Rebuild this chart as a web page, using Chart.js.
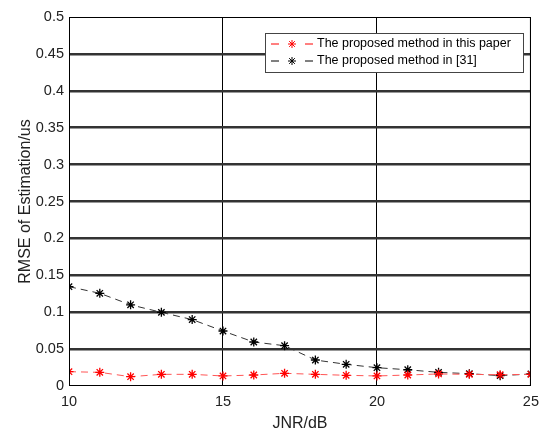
<!DOCTYPE html>
<html>
<head>
<meta charset="utf-8">
<script src="https://cdn.jsdelivr.net/npm/chart.js@4/dist/chart.umd.min.js"></script>
<style>
  html, body { margin: 0; padding: 0; background: #fff; }
  #wrap { width: 546px; height: 433px; }
</style>
</head>
<body>
<div id="wrap"><canvas id="rmse-chart" width="546" height="433"></canvas></div>
<script>
const jnr = [10, 11, 12, 13, 14, 15, 16, 17, 18, 19, 20, 21, 22, 23, 24, 25];
const proposedThis = [0.0194, 0.0185, 0.0126, 0.0158, 0.0158, 0.0136, 0.0149, 0.0172, 0.0158, 0.0145, 0.0136, 0.0149, 0.0163, 0.0158, 0.0153, 0.0158];
const proposedRef31 = [0.1346, 0.1256, 0.1100, 0.0998, 0.0900, 0.0745, 0.0596, 0.0546, 0.0352, 0.0294, 0.0248, 0.0220, 0.0185, 0.0167, 0.0140, 0.0163];
const seriesNames = ['The proposed method in this paper', 'The proposed method in [31]'];
const xTicks = [10, 15, 20, 25];

const font = 'Liberation Sans, Arial, sans-serif';

function toPoints(values) {
    return values.map((v, i) => ({ x: jnr[i], y: v }));
}

// box around the plot plus the boxed legend in the upper right
const framePlugin = {
    id: 'frame',
    afterDraw(chart) {
        const { ctx, chartArea: a } = chart;
        ctx.save();
        ctx.strokeStyle = '#000';
        ctx.lineWidth = 1;
        ctx.strokeRect(a.left + 0.5, a.top + 0.5, a.right - a.left - 1, a.bottom - a.top - 1);

        // legend
        const lx = 265, ly = 33, lw = 258, lh = 39;
        ctx.fillStyle = '#fff';
        ctx.fillRect(lx, ly, lw, lh);
        ctx.strokeStyle = '#444';
        ctx.strokeRect(lx + 0.5, ly + 0.5, lw, lh);
        const colors = ['#ff0000', '#000000'];
        chart.data.datasets.forEach((ds, i) => {
            const y = ly + 11 + i * 17;
            ctx.strokeStyle = colors[i];
            ctx.lineWidth = 1;
            ctx.beginPath();
            ctx.moveTo(lx + 6, y); ctx.lineTo(lx + 14, y);
            ctx.moveTo(lx + 40, y); ctx.lineTo(lx + 48, y);
            ctx.stroke();
            Chart.helpers.drawPoint(ctx, { pointStyle: 'star', radius: 4, rotation: 0, borderWidth: 1.2 }, lx + 27, y);
            ctx.fillStyle = '#000';
            ctx.font = '12.5px ' + font;
            ctx.textBaseline = 'middle';
            ctx.fillText(ds.label, lx + 52, y);
        });
        ctx.restore();
    }
};

new Chart(document.getElementById('rmse-chart'), {
    type: 'line',
    data: {
        datasets: [
            {
                label: seriesNames[0],
                data: toPoints(proposedThis),
                borderColor: '#ff5555',
                borderWidth: 1,
                borderDash: [7, 5],
                pointStyle: 'star',
                pointRadius: 4.5,
                pointBorderColor: '#ff0000',
                pointBorderWidth: 1.3,
                fill: false
            },
            {
                label: seriesNames[1],
                data: toPoints(proposedRef31),
                borderColor: '#333',
                borderWidth: 1,
                borderDash: [7, 5],
                pointStyle: 'star',
                pointRadius: 4.5,
                pointBorderColor: '#000',
                pointBorderWidth: 1.3,
                fill: false
            }
        ]
    },
    options: {
        responsive: false,
        animation: false,
        events: [],
        layout: { padding: { top: 17, right: 9, left: 12, bottom: 0 } },
        plugins: {
            legend: { display: false },
            tooltip: { enabled: false }
        },
        scales: {
            x: {
                type: 'linear',
                min: 10,
                max: 25,
                afterBuildTicks: scale => { scale.ticks = xTicks.map(v => ({ value: v })); },
                afterFit: scale => { scale.height = 47; },
                grid: { color: '#000', lineWidth: 1, drawTicks: false },
                border: { display: false },
                ticks: { color: '#222', font: { family: font, size: 14.5 }, padding: 7, maxRotation: 0 },
                title: { display: true, text: 'JNR/dB', color: '#222', font: { family: font, size: 16 }, padding: { top: 2, bottom: 0 } }
            },
            y: {
                min: 0,
                max: 0.5,
                afterFit: scale => { scale.width = 57; },
                grid: {
                    color: '#333',
                    lineWidth: c => (c.tick && (c.tick.value === 0 || c.tick.value === 0.5)) ? 0 : 2.5,
                    drawTicks: false
                },
                border: { display: false },
                ticks: {
                    stepSize: 0.05,
                    color: '#222',
                    font: { family: font, size: 14.5 },
                    padding: 5,
                    callback: v => String(parseFloat(v.toFixed(2)))
                },
                title: { display: true, text: 'RMSE of Estimation/us', color: '#222', font: { family: font, size: 16 }, padding: { bottom: 2 } }
            }
        }
    },
    plugins: [framePlugin]
});
</script>
</body>
</html>
